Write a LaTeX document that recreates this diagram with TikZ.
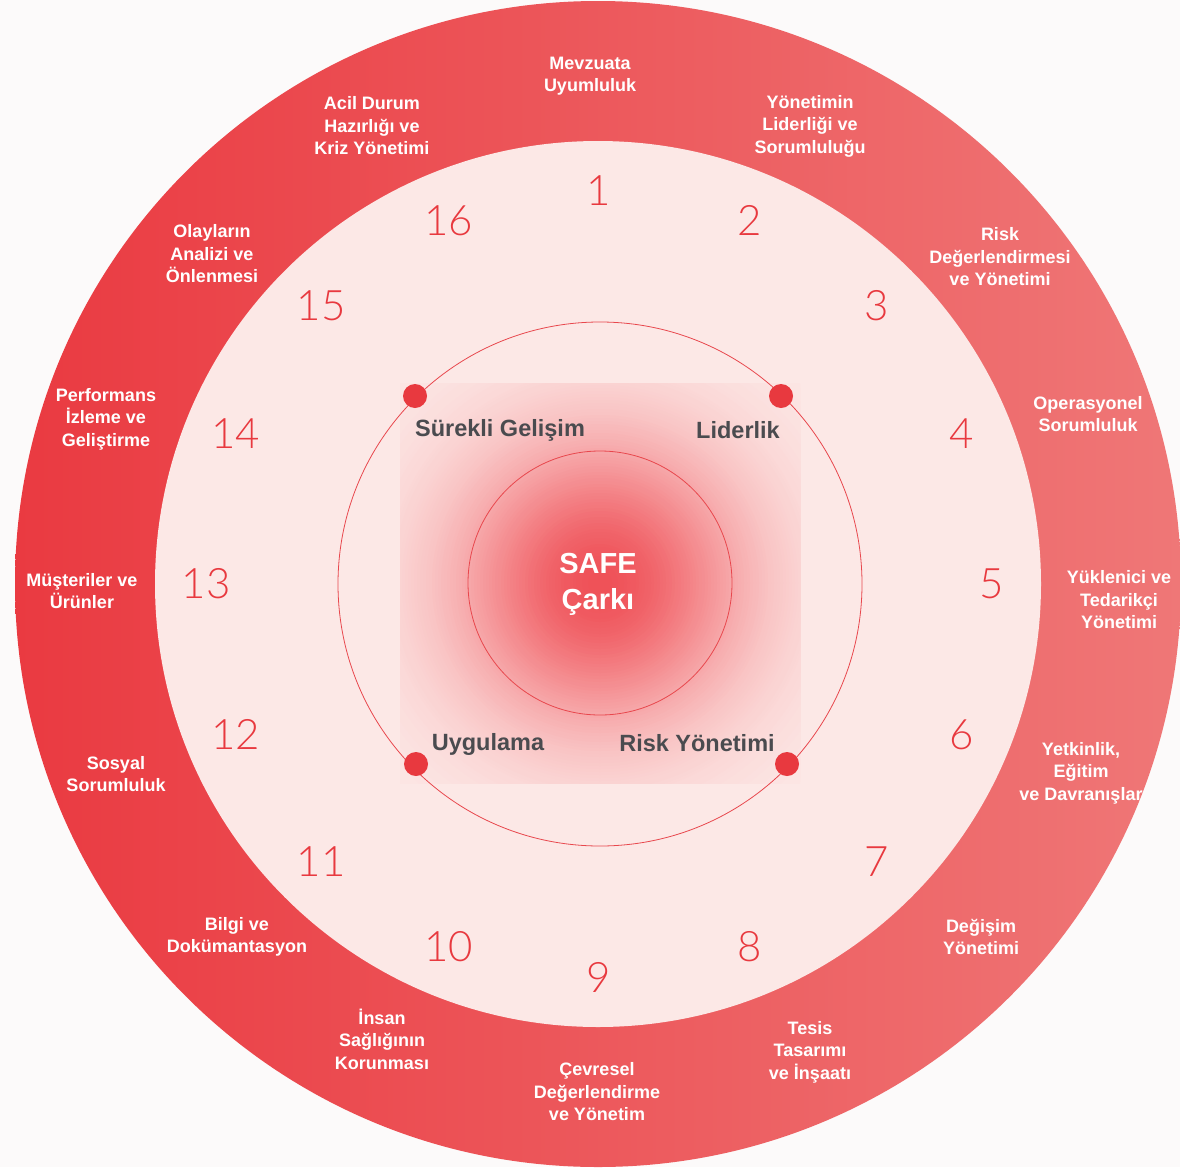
\documentclass[tikz,border=0pt]{standalone}
\usepackage{fontspec}
\setmainfont{Liberation Sans}
\newfontfamily\numfont{Lato Light}
\definecolor{bgc}{HTML}{FCFAFA}
\definecolor{ringL}{HTML}{EA3A41}
\definecolor{ringR}{HTML}{EF7777}
\definecolor{diskc}{HTML}{FCE8E6}
\definecolor{numred}{HTML}{E8393F}
\definecolor{linec}{HTML}{E8474D}
\definecolor{darkg}{HTML}{4A4B4F}
\definecolor{glowa}{HTML}{EF5057}
\tikzset{
 outerlbl/.style={text=white, font=\bfseries\fontsize{18}{22.5}\selectfont, align=center, inner sep=0pt},
 numlbl/.style={text=numred, font=\numfont\fontsize{42}{42}\selectfont, inner sep=0pt},
 innerlbl/.style={text=darkg, font=\bfseries\fontsize{23.5}{28}\selectfont, inner sep=0pt},
 reddot/.style={circle, fill=numred, minimum size=24pt, inner sep=0pt},
 thinring/.style={draw=linec, line width=0.8pt},
}
\begin{document}
\begin{tikzpicture}[x=1pt,y=-1pt]
\useasboundingbox (0,0) rectangle (1180,1167);
\fill[bgc] (0,0) rectangle (1180,1167);
% outer ring
\shade[left color=ringL, right color=ringR] (598,584) circle[radius=583pt];
% inner disc
\fill[diskc] (598,584) circle[radius=443pt];
% glow (concentric fills, clipped to a square)
\begin{scope}
\clip (400,383) rectangle (800,783);
\foreach \i in {0,...,94}{
  \pgfmathsetmacro{\rr}{285-3*\i}
  \pgfmathtruncatemacro{\pp}{100*exp(-((\rr/145)^2))}
  \fill[glowa!\pp!diskc] (600,583) circle[radius=\rr pt];
}
\end{scope}
% thin circles
\draw[thinring] (600,584) circle[radius=262pt];
\draw[thinring] (600,583) circle[radius=132pt];
% dots
\coordinate (mc) at (600,582);
\node[reddot] (d1) at ([shift={(-185,-186)}]mc) {};
\node[reddot] (d2) at ([shift={(181,-186)}]mc) {};
\node[reddot] (d3) at ([shift={(-184,182)}]mc) {};
\node[reddot] (d4) at ([shift={(187,182)}]mc) {};
% inner labels
\node[innerlbl] (s1) at (500,430) {Sürekli Gelişim};
\node[innerlbl] (s2) at (738,430) {Liderlik};
\node[innerlbl] (s3) at (488,744) {Uygulama};
\node[innerlbl] (s4) at (697,743) {Risk Yönetimi};
% center
\node[text=white, font=\bfseries\fontsize{29}{36}\selectfont, align=center, inner sep=0pt] (safe) at (598,584) {SAFE\\Çarkı};
% numbers
\coordinate (cc) at (599,584);
\foreach \k in {1,...,16}{
  \pgfmathsetmacro{\ang}{(\k-1)*22.5}
  \node[numlbl] (n\k) at ([shift={({393*sin(\ang)},{-393*cos(\ang)})}]cc) {\k};
}
% outer labels
\node[outerlbl] (l1) at (590,76) {Mevzuata\\Uyumluluk};
\node[outerlbl] (l2) at (810,126) {Yönetimin\\Liderliği ve\\Sorumluluğu};
\node[outerlbl] (l3) at (1000,257) {Risk\\Değerlendirmesi\\ve Yönetimi};
\node[outerlbl] (l4) at (1088,414) {Operasyonel\\Sorumluluk};
\node[outerlbl] (l5) at (1119,600) {Yüklenici ve\\Tedarikçi\\Yönetimi};
\node[outerlbl] (l6) at (1081,773) {Yetkinlik,\\Eğitim\\ve Davranışlar};
\node[outerlbl] (l7) at (981,937) {Değişim\\Yönetimi};
\node[outerlbl] (l8) at (810,1052) {Tesis\\Tasarımı\\ve İnşaatı};
\node[outerlbl] (l9) at (597,1092) {Çevresel\\Değerlendirme\\ve Yönetim};
\node[outerlbl] (l10) at (382,1039) {İnsan\\Sağlığının\\Korunması};
\node[outerlbl] (l11) at (237,937) {Bilgi ve\\Dokümantasyon};
\node[outerlbl] (l12) at (116,774) {Sosyal\\Sorumluluk};
\node[outerlbl] (l13) at (82,591) {Müşteriler ve\\Ürünler};
\node[outerlbl] (l14) at (106,419) {Performans\\İzleme ve\\Geliştirme};
\node[outerlbl] (l15) at (212,254) {Olayların\\Analizi ve\\Önlenmesi};
\node[outerlbl] (l16) at (372,126) {Acil Durum\\Hazırlığı ve\\Kriz Yönetimi};
\end{tikzpicture}
\end{document}
